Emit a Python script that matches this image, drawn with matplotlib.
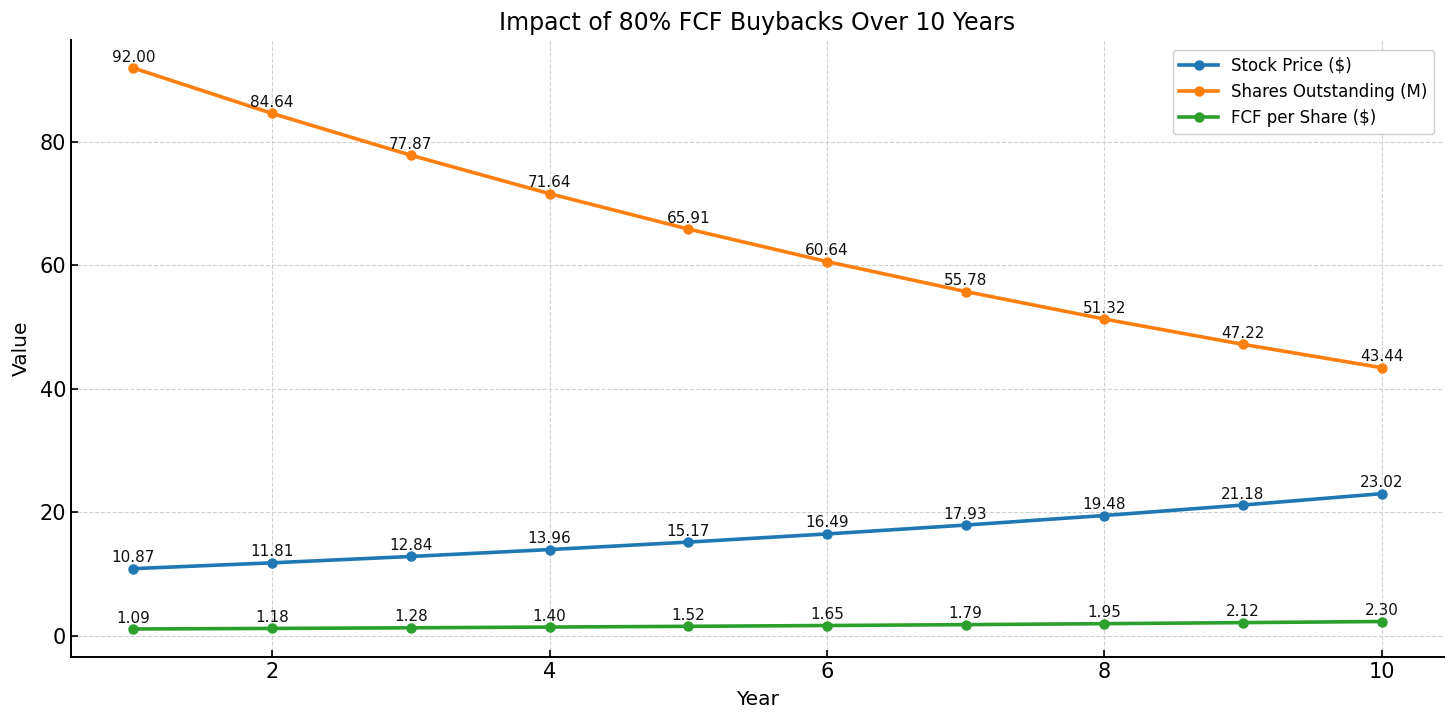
import matplotlib
matplotlib.use("Agg")
import matplotlib.pyplot as plt
import numpy as np

years = [1, 2, 3, 4, 5, 6, 7, 8, 9, 10]
stock_price = [10.87, 11.81, 12.84, 13.96, 15.17, 16.49, 17.93, 19.48, 21.18, 23.02]
shares_out = [92.00, 84.64, 77.87, 71.64, 65.91, 60.64, 55.78, 51.32, 47.22, 43.44]
fcf_per_share = [1.09, 1.18, 1.28, 1.40, 1.52, 1.65, 1.79, 1.95, 2.12, 2.30]

series = [
    ("Stock Price ($)", stock_price, "#1f77b4"),
    ("Shares Outstanding (M)", shares_out, "#ff7f0e"),
    ("FCF per Share ($)", fcf_per_share, "#2ca02c"),
]

fig = plt.figure(figsize=(14.56, 7.22), dpi=100)
ax = fig.add_axes([0.0488, 0.09, 0.943, 0.8546])

for name, vals, c in series:
    ax.plot(years, vals, marker="o", color=c, linewidth=2.6, markersize=6.5, label=name)
    # 数值标注
    for x, v in zip(years, vals):
        ax.annotate(f"{v:.2f}", (x, v), textcoords="offset points", xytext=(0, 2.5),
                    ha="center", va="bottom", fontsize=11, color="#111111")

ax.set_title("Impact of 80% FCF Buybacks Over 10 Years", fontsize=17, pad=7)
ax.set_xlabel("Year", fontsize=14.5, labelpad=6)
ax.set_ylabel("Value", fontsize=14.5, labelpad=6)
ax.tick_params(direction="in", labelsize=15, length=5, width=1.2)
ax.spines["top"].set_visible(False)
ax.spines["right"].set_visible(False)
for s in ("left", "bottom"):
    ax.spines[s].set_linewidth(1.4)
ax.grid(True, linestyle="--", color="#d0d0d0", linewidth=0.8)
ax.legend(loc="upper right", fontsize=12, framealpha=1, labelspacing=0.5,
          handlelength=2.3, borderaxespad=0.6)

fig.savefig("out.png", dpi=100)
